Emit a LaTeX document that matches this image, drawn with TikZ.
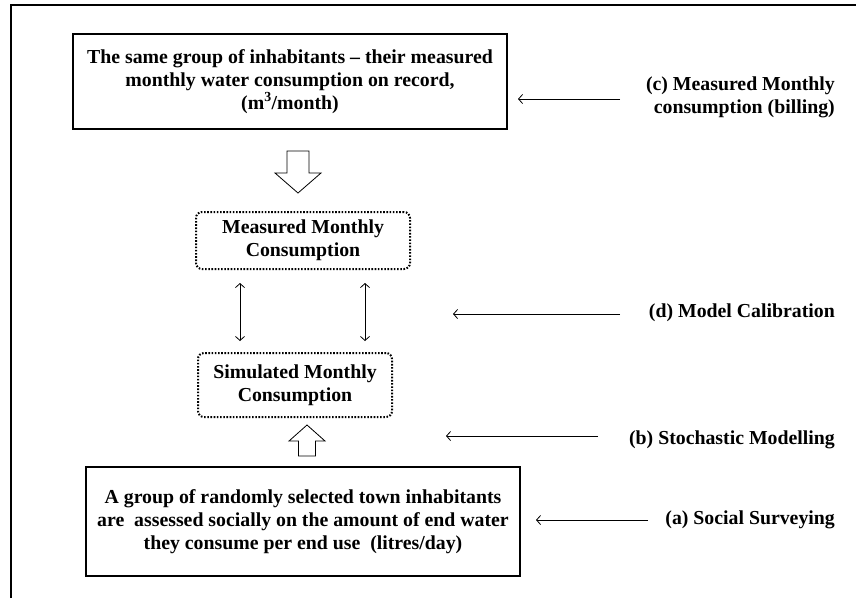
\documentclass[tikz,border=0pt]{standalone}
\usepackage{fontspec}
\setmainfont{Liberation Serif}
\usetikzlibrary{arrows.meta}

\begin{document}
\begin{tikzpicture}[x=1pt,y=-1pt,>={Straight Barb[length=4pt,width=9pt]},
      every node/.style={font=\fontsize{19.8}{23}\selectfont\bfseries},
      box/.style={draw,line width=1.8pt,align=center,inner sep=0pt},
      dotbox/.style={draw,line width=2pt,dash pattern=on 1.6pt off 1.6pt,
        rounded corners=6pt,align=center,inner sep=0pt},
      lbl/.style={anchor=east,align=right,inner sep=0pt},
      pointer/.style={->,line width=0.8pt},
      hollow/.style={draw,line width=0.8pt,fill=white}]
      \useasboundingbox (0,0) rectangle (856,598);
      \draw[line width=2pt] (11,598) -- (11,5) -- (856,5);

      \node[box,minimum width=434pt,minimum height=95pt] (record) at (290,81.5)
        {The same group of inhabitants -- their measured\\
         monthly water consumption on record,\\ (m\textsuperscript{3}/month)};
      \node[dotbox,minimum width=214pt,minimum height=57pt] (measured) at (303,240.5)
        {Measured Monthly\\ Consumption};
      \node[dotbox,minimum width=194pt,minimum height=64pt] (simulated) at (295,385)
        {Simulated Monthly\\ Consumption};
      \node[box,minimum width=434pt,minimum height=109pt] (survey) at (303,521.5)
        {A group of randomly selected town inhabitants\\
         are\ \ assessed socially on the amount of end water\\
         they consume per end use\ \ (litres/day)};

      \node[lbl] (lbl_c) at (835,97) {(c) Measured Monthly\\ consumption (billing)};
      \node[lbl] (lbl_d) at (835,313) {(d) Model Calibration};
      \node[lbl] (lbl_b) at (835,440) {(b) Stochastic Modelling};
      \node[lbl] (lbl_a) at (835,520) {(a) Social Surveying};

      \coordinate (tail_c) at (620,99);  \coordinate (tip_c) at (518,99);
      \coordinate (tail_d) at (620,314); \coordinate (tip_d) at (453,314);
      \coordinate (tail_b) at (598,436); \coordinate (tip_b) at (446,436);
      \coordinate (tail_a) at (648,520); \coordinate (tip_a) at (536,520);

      \draw[pointer] (tail_c) -- (tip_c);
      \draw[pointer] (tail_d) -- (tip_d);
      \draw[pointer] (tail_b) -- (tip_b);
      \draw[pointer] (tail_a) -- (tip_a);

      % calibration links
      \draw[<->,line width=0.8pt,shorten <=13pt,shorten >=11pt]
        ([xshift=-63pt]measured.south) -- ([xshift=-63pt]measured.south |- simulated.north);
      \draw[<->,line width=0.8pt,shorten <=13pt,shorten >=11pt]
        ([xshift=62pt]measured.south) -- ([xshift=62pt]measured.south |- simulated.north);

      % block arrows
      \draw[hollow] (287,151) -- (309,151) -- (309,173) -- (321,173) -- (298,193)
        -- (275,173) -- (287,173) -- cycle;
      \draw[hollow] (298.5,456) -- (315.5,456) -- (315.5,441) -- (325,441) -- (307,425)
        -- (289,441) -- (298.5,441) -- cycle;
\end{tikzpicture}
\end{document}
